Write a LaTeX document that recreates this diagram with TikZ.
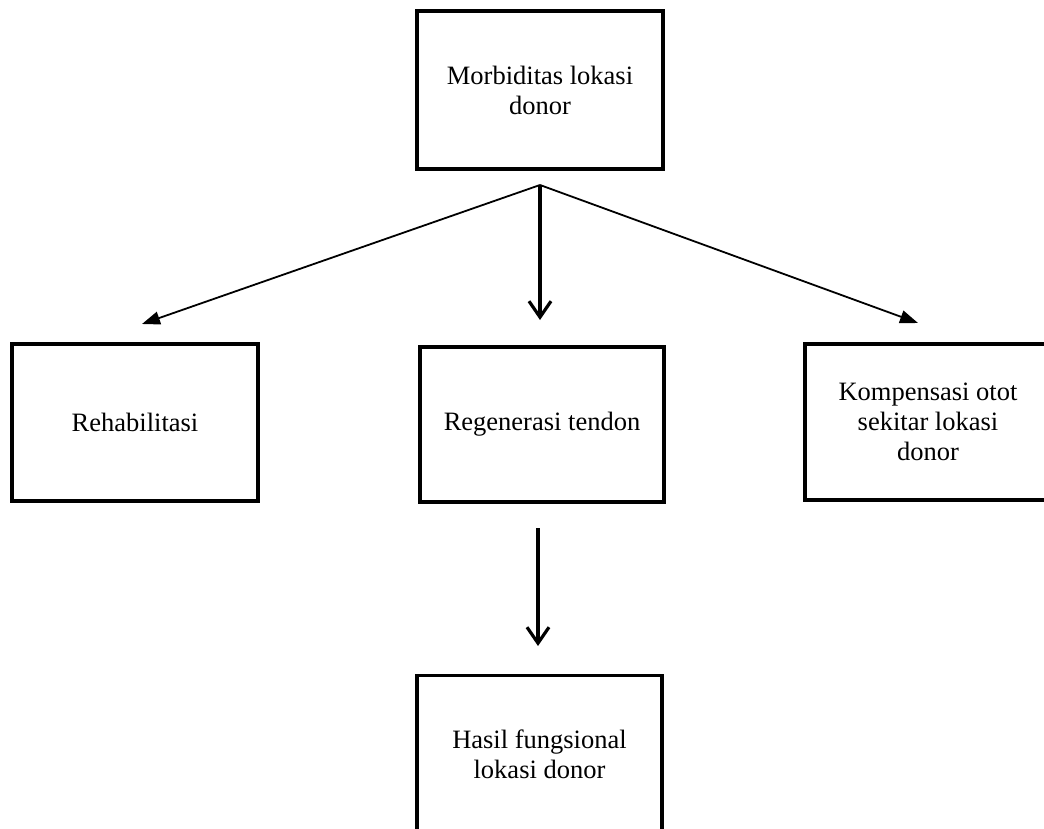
\documentclass[tikz,border=0pt]{standalone}
\usepackage{fontspec}
\setmainfont{Liberation Serif}
\usetikzlibrary{arrows.meta}

\begin{document}
\begin{tikzpicture}[
    x=1pt, y=-1pt,
    box/.style={rectangle, draw=black, line width=3.8pt, fill=white, align=center,
        font=\fontsize{26.5}{30}\selectfont, inner sep=0pt},
    thin/.style={-{Triangle[length=18pt,width=13pt]}, line width=1.8pt},
    thick/.style={-{Straight Barb[length=16pt,width=22pt]}, line width=3.2pt}
]
    \useasboundingbox (0,0) rectangle (1044,829);

    % Boxes
    \node[box, minimum width=246pt, minimum height=158pt] (morb) at (540,90) {Morbiditas lokasi\\donor};
    \node[box, minimum width=246pt, minimum height=157pt] (rehab) at (135,422.5) {Rehabilitasi};
    \node[box, minimum width=244pt, minimum height=155pt] (regen) at (542,424.5) {Regenerasi tendon};
    \node[box, minimum width=246pt, minimum height=156pt] (komp) at (928,422) {Kompensasi otot\\sekitar lokasi\\donor};
    \node[box, minimum width=245pt, minimum height=157pt] (hasil) at (539.5,754) {Hasil fungsional\\lokasi donor};

    % Arrow ends
    \coordinate (split) at (540,185);
    \coordinate (toRehab) at (142,324);
    \coordinate (toRegen) at (540,320);
    \coordinate (toKomp) at (918,323);
    \coordinate (fromRegen) at (538,528);
    \coordinate (toHasil) at (538,646);

    % Arrows
    \draw[thin] (split) -- (toRehab);
    \draw[thick] (split) -- (toRegen);
    \draw[thin] (split) -- (toKomp);
    \draw[thick] (fromRegen) -- (toHasil);
\end{tikzpicture}
\end{document}
